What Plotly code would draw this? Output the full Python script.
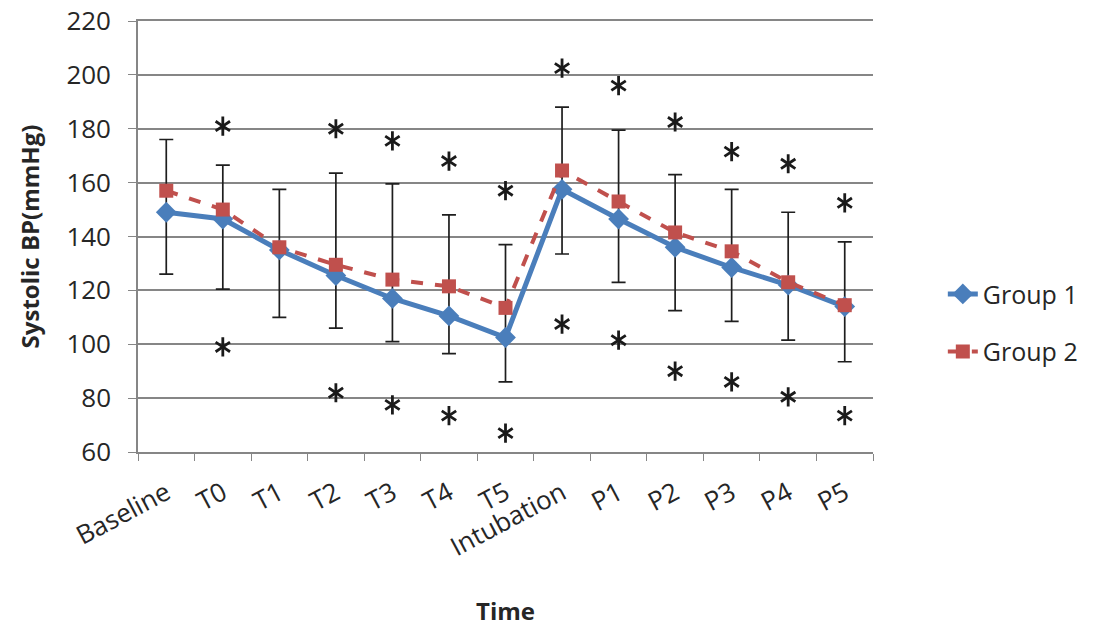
import plotly.graph_objects as go

categories = ["Baseline", "T0", "T1", "T2", "T3", "T4", "T5", "Intubation",
              "P1", "P2", "P3", "P4", "P5"]
group1 = [149, 146.5, 135, 125.5, 117, 110.5, 102.5, 157.5, 146.5, 136, 128.5, 122, 114]
group2 = [157, 150, 136, 129.5, 124, 121.5, 113.5, 164.5, 153, 141.5, 134.5, 123, 114.5]
err_top = [176, 166.5, 157.5, 163.5, 159.5, 148, 137, 188, 179.5, 163, 157.5, 149, 138]
err_bottom = [126, 120.5, 110, 106, 101, 96.5, 86, 133.5, 123, 112.5, 108.5, 101.5, 93.5]
star_upper = [None, 181, None, 180, 175.5, 168, 157, 202.5, 196, 182.5, 171.5, 167, 152.5]
star_lower = [None, 99, None, 82, 77.5, 73.5, 67, 107.5, 101.5, 90, 86, 80.5, 73.5]
y_ticks = [60, 80, 100, 120, 140, 160, 180, 200, 220]

FONT = "Open Sans"
TXT = "#262626"
GRID = "#868686"
BLUE = "#4a7ebb"
RED = "#c0504d"

fig = go.Figure()

fig.add_trace(go.Scatter(
    x=categories, y=group1, name="Group 1", mode="lines+markers",
    line=dict(color=BLUE, width=5),
    marker=dict(symbol="diamond", size=16, color=BLUE),
    error_y=dict(type="data", symmetric=False,
                 array=[t - g for t, g in zip(err_top, group1)],
                 arrayminus=[g - b for g, b in zip(group1, err_bottom)],
                 color="#1e1e1e", thickness=1.7, width=7),
    legendgroup="g1",
))
fig.add_trace(go.Scatter(
    x=categories, y=group2, name="Group 2", mode="lines+markers",
    line=dict(color=RED, width=4, dash="dash"),
    marker=dict(symbol="square", size=14, color=RED),
    legendgroup="g2",
))

star_x = categories + categories
star_y = star_upper + star_lower
for sym in ["y-up-open", "y-down-open"]:
    fig.add_trace(go.Scatter(
        x=star_x, y=star_y, mode="markers", showlegend=False, hoverinfo="skip",
        marker=dict(symbol=sym, size=12, color="#1a1a1a",
                    line=dict(color="#1a1a1a", width=2.8)),
    ))

fig.update_layout(
    width=1106, height=631,
    margin=dict(l=138, r=233, t=21, b=179),
    paper_bgcolor="white", plot_bgcolor="white",
    font=dict(family=FONT, size=24, color=TXT),
    legend=dict(x=1.095, y=0.30, xanchor="left", yanchor="middle",
                font=dict(size=25, color=TXT), tracegroupgap=22,
                traceorder="grouped", bgcolor="rgba(0,0,0,0)"),
    xaxis=dict(
        type="category", range=[-0.5, 12.5], automargin=False,
        tickangle=-28, tickfont=dict(size=26, color=TXT),
        ticks="outside", tickson="boundaries", ticklen=7, tickcolor=GRID,
        ticklabelstandoff=14,
        showline=True, mirror=True, linecolor=GRID, linewidth=1.6, showgrid=False,
        title=dict(text="<b>Time</b>", font=dict(size=24, color=TXT), standoff=40),
    ),
    yaxis=dict(
        range=[60, 220], tickvals=y_ticks, tickfont=dict(size=26, color=TXT),
        automargin=False,
        showgrid=True, gridcolor=GRID, gridwidth=1.6,
        showline=True, linecolor=GRID, linewidth=1.6,
        ticks="outside", ticklen=8, tickcolor=GRID, zeroline=False,
        ticklabelstandoff=12, ticklabeloverflow="allow",
        title=dict(text="<b>Systolic BP(mmHg)</b>", font=dict(size=24, color=TXT), standoff=20),
    ),
)

fig.write_html("out.html")
